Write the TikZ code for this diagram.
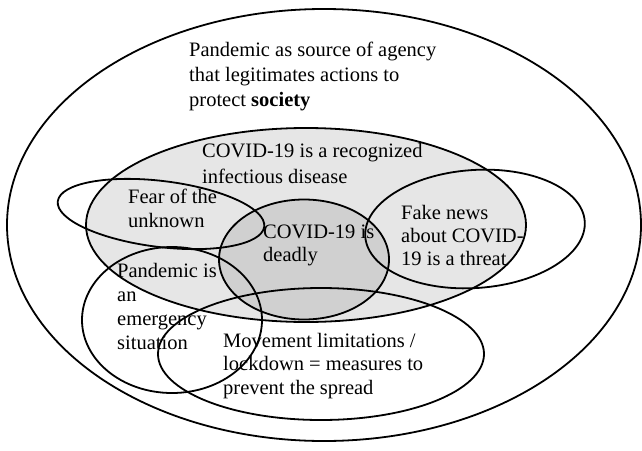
\documentclass[tikz,border=0pt]{standalone}
\usepackage{fontspec}
\setmainfont{Liberation Serif}
\definecolor{lightg}{RGB}{230,230,230}
\definecolor{darkg}{RGB}{208,208,208}
\begin{document}
\begin{tikzpicture}[x=1pt,y=-1pt,
  ring/.style={draw=black,line width=1.8pt},
  lbl/.style={anchor=north west,inner sep=0pt,align=left},
  fs/.style={font=\fontsize{20.5}{#1}\selectfont}]
\useasboundingbox (0,0) rectangle (642,450);
% fills
\fill[lightg] (306,225) ellipse [x radius=220, y radius=97];
\fill[darkg] (304,259.5) ellipse [x radius=85, y radius=60];
% texts
\node[lbl,fs=25] (agency) at (189,42) {Pandemic as source of agency\\that legitimates actions to\\protect \textbf{society}};
\node[lbl,fs=26] (recog) at (202,143) {COVID-19 is a recognized\\infectious disease};
\node[lbl,fs=24] (fear) at (128,189) {Fear of the\\unknown};
\node[lbl,fs=22.5] (deadly) at (263,225) {COVID-19 is\\deadly};
\node[lbl,fs=23] (fake) at (401,205) {Fake news\\about COVID-\\19 is a threat};
\node[lbl,fs=24] (emerg) at (117,263) {Pandemic is\\an\\emergency\\situation};
\node[lbl,fs=23.5] (move) at (223,333) {Movement limitations /\\lockdown = measures to\\prevent the spread};
% outlines
\draw[ring] (324,225) ellipse [x radius=317, y radius=216];
\draw[ring] (306,225) ellipse [x radius=220, y radius=97];
\draw[ring] (304,259.5) ellipse [x radius=85, y radius=60];
\draw[ring,shift={(161,214)},rotate=-7] (0,0) ellipse [x radius=104, y radius=33];
\draw[ring,shift={(475,229)},rotate=4] (0,0) ellipse [x radius=110, y radius=59];
\draw[ring] (172,320) ellipse [x radius=90, y radius=73];
\draw[ring] (321,354) ellipse [x radius=163, y radius=66];
\end{tikzpicture}
\end{document}
